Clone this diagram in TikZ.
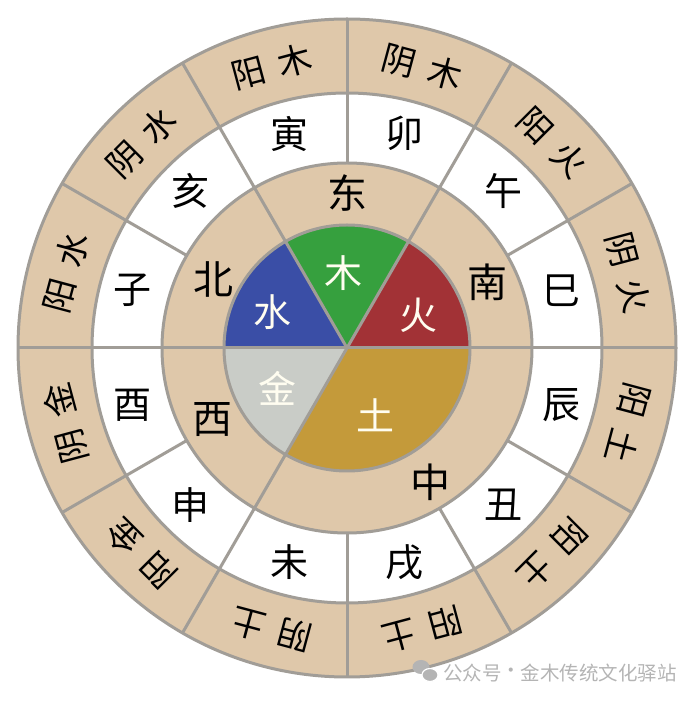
\documentclass[tikz,border=0pt]{standalone}
\usepackage{fontspec}
\setmainfont{Noto Sans CJK SC}
\definecolor{ringtan}{HTML}{DFC8AA}
\definecolor{linegray}{HTML}{A19D97}
\definecolor{shuiblue}{HTML}{3A4EA6}
\definecolor{mugreen}{HTML}{36A03E}
\definecolor{huored}{HTML}{A23236}
\definecolor{jinsilver}{HTML}{C9CCC7}
\definecolor{tugold}{HTML}{C49A3A}
\definecolor{wmgray}{HTML}{B4B4B4}
\definecolor{labelwhite}{HTML}{FFFDF0}
\tikzset{
  ln/.style={draw=linegray, line width=3pt},
  outertext/.style={inner sep=0pt, font=\fontsize{34}{34}\selectfont},
  branchtext/.style={inner sep=0pt, font=\fontsize{38}{38}\selectfont},
  dirtext/.style={inner sep=0pt, font=\fontsize{40}{40}\selectfont},
  elemtext/.style={inner sep=0pt, text=labelwhite, font=\fontsize{38}{38}\selectfont},
  wmtext/.style={inner sep=0pt, text=wmgray, font=\fontsize{19.5}{19.5}\selectfont}
}
\begin{document}
\begin{tikzpicture}[x=1pt,y=1pt]
\useasboundingbox (0,0) rectangle (700,702);
\begin{scope}[shift={(347,354)}]
  % rings
  \fill[ringtan] (0,0) circle (329);
  \fill[white] (0,0) circle (255);
  \fill[ringtan] (0,0) circle (185);
  % five elements pie
  \fill[huored]    (0,0) -- (0:123)   arc (0:60:123)    -- cycle;
  \fill[mugreen]   (0,0) -- (60:123)  arc (60:120:123)  -- cycle;
  \fill[shuiblue]  (0,0) -- (120:123) arc (120:180:123) -- cycle;
  \fill[jinsilver] (0,0) -- (180:123) arc (180:240:123) -- cycle;
  \fill[tugold]    (0,0) -- (240:123) arc (240:360:123) -- cycle;
  % circle outlines
  \draw[ln] (0,0) circle (329);
  \draw[ln] (0,0) circle (255);
  \draw[ln] (0,0) circle (185);
  \draw[ln] (0,0) circle (123);
  % radial dividers
  \foreach \a in {0,60,120,180,240} \draw[ln] (0,0) -- (\a:329);
  \foreach \a in {30,90,150,210,270,300,330} \draw[ln] (\a:185) -- (\a:329);
  % outer ring labels
  \foreach \a/\t [count=\i] in {105/阳\hspace{0.4em}木, 75/阴\hspace{0.4em}木, 45/阳\hspace{0.4em}火, 15/阴\hspace{0.4em}火,
      -15/阳\hspace{0.4em}土, -45/阳\hspace{0.4em}土, -75/阳\hspace{0.4em}土, -105/阴\hspace{0.4em}土,
      -135/阳\hspace{0.4em}金, -165/阴\hspace{0.4em}金, 165/阳\hspace{0.4em}水, 135/阴\hspace{0.4em}水}
    \node[outertext, rotate=\a-90] (outer\i) at (\a:291) {\t};
  % earthly branches
  \foreach \a/\t [count=\i] in {105/寅, 75/卯, 45/午, 15/巳, -15/辰, -45/丑, -75/戌, -105/未, -135/申, -165/酉, 165/子, 135/亥}
    \node[branchtext] (branch\i) at (\a:222) {\t};
  % directions
  \node[dirtext] (east)   at (90:155)  {东};
  \node[dirtext] (south)  at (25:155)  {南};
  \node[dirtext] (north)  at (153:150) {北};
  \node[dirtext] (west)   at (208:152) {西};
  \node[dirtext] (center) at (-58:158) {中};
  % elements
  \node[elemtext] (mu)   at (-4,75)   {木};
  \node[elemtext] (shui) at (-75,36)  {水};
  \node[elemtext] (huo)  at (71,33)   {火};
  \node[elemtext] (jin)  at (-70,-40) {金};
  \node[elemtext] (tu)   at (28,-67)  {土};
\end{scope}
% watermark
\fill[wmgray] (421,35) ellipse (8.5 and 7);
\fill[wmgray, draw=white, line width=1.2pt] (430,27) ellipse (8 and 6.5);
\node[wmtext, anchor=west] (wm1) at (443,29) {公众号};
\node[wmtext] (wmdot) at (511,29) {·};
\node[wmtext, anchor=east] (wm2) at (677,29) {金木传统文化驿站};
\end{tikzpicture}
\end{document}
